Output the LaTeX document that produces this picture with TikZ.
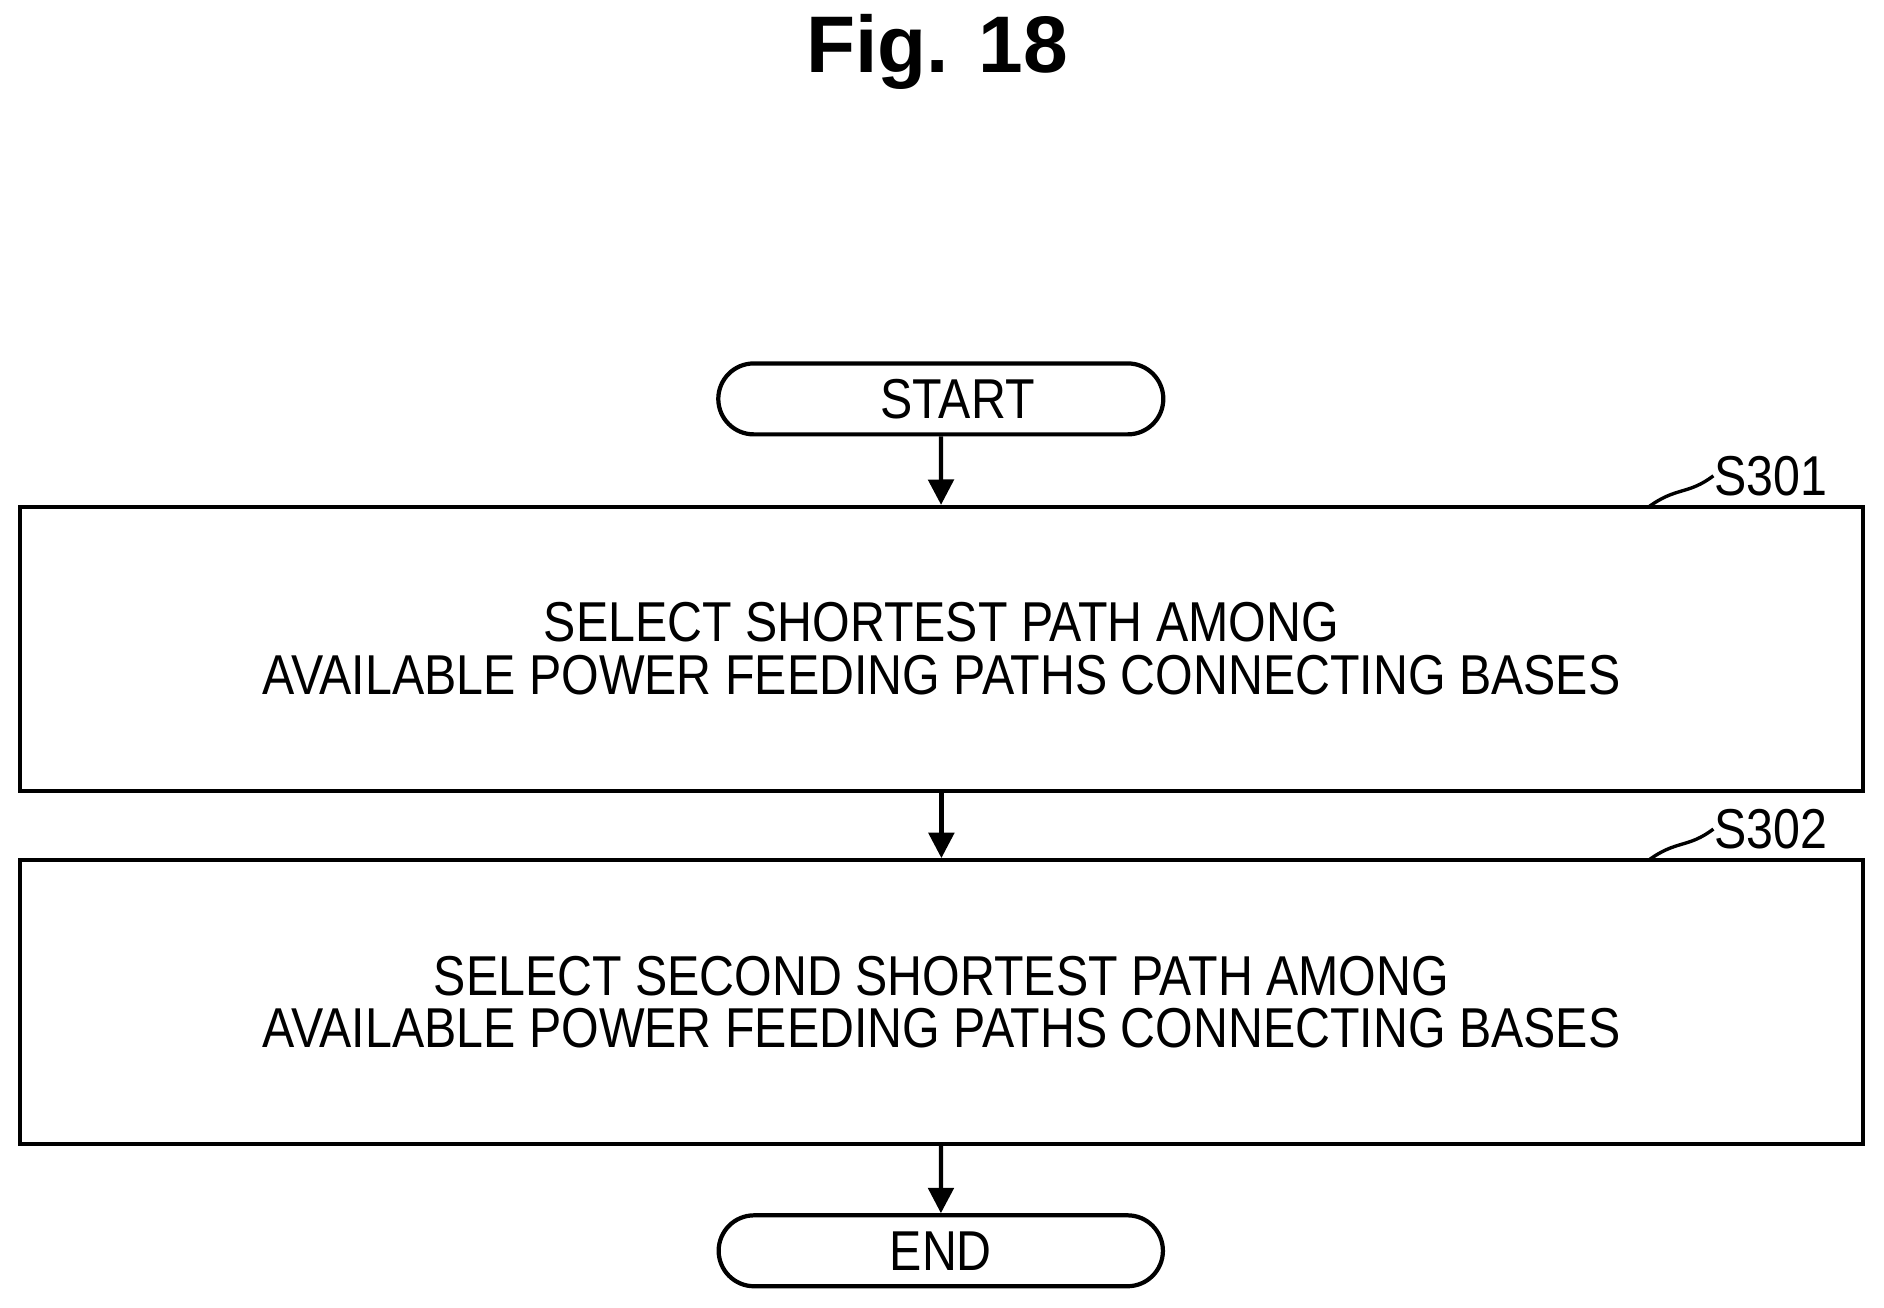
\documentclass[tikz,border=0pt]{standalone}
\usepackage{fontspec}
\setmainfont{Liberation Sans}[FakeStretch=0.86]
\newfontfamily\figfont{Liberation Sans}
\usetikzlibrary{shapes.misc,arrows.meta}

\tikzset{
  term/.style={rounded rectangle,draw,line width=1pt,minimum width=2.36cm,minimum height=0.59cm,inner xsep=1.3cm,font=\fontsize{13.3}{15}\selectfont},
  proc/.style={rectangle,draw,line width=1pt,minimum width=15.33cm,minimum height=2.36cm,align=center,font=\fontsize{13.3}{12.4}\selectfont},
  flow/.style={-{Triangle[length=6pt,width=6pt]},line width=1pt},
  tag/.style={font=\fontsize{13.3}{15}\selectfont,anchor=west,inner sep=0pt}
}

\begin{document}
\begin{tikzpicture}[x=0.01cm,y=-0.01cm]
  \useasboundingbox (0,0) rectangle (1568,1088);

  \node[font=\figfont\bfseries\fontsize{19}{21}\selectfont] (fig) at (780,43) {Fig. 18};

  \node[term,text width=1cm,align=center] (start) at (783,332) {START};
  \node[proc] (s301) at (783.5,540) {SELECT SHORTEST PATH AMONG\\AVAILABLE POWER FEEDING PATHS CONNECTING BASES};
  \node[proc] (s302) at (783.5,834) {SELECT SECOND SHORTEST PATH AMONG\\AVAILABLE POWER FEEDING PATHS CONNECTING BASES};
  \node[term,text width=1cm,align=center] (end) at (783,1041) {END};

  \draw[flow] (start) -- (s301);
  \draw[flow] (s301) -- (s302);
  \draw[flow] (s302) -- (end);

  % step labels
  \node[tag] (l301) at (1426,396) {S301};
  \node[tag] (l302) at (1426,690) {S302};
  \draw[line width=0.8pt] (1372,422) .. controls (1395,405) and (1405,412) .. (l301.west);
  \draw[line width=0.8pt] (1372,716) .. controls (1395,699) and (1405,706) .. (l302.west);
\end{tikzpicture}
\end{document}
